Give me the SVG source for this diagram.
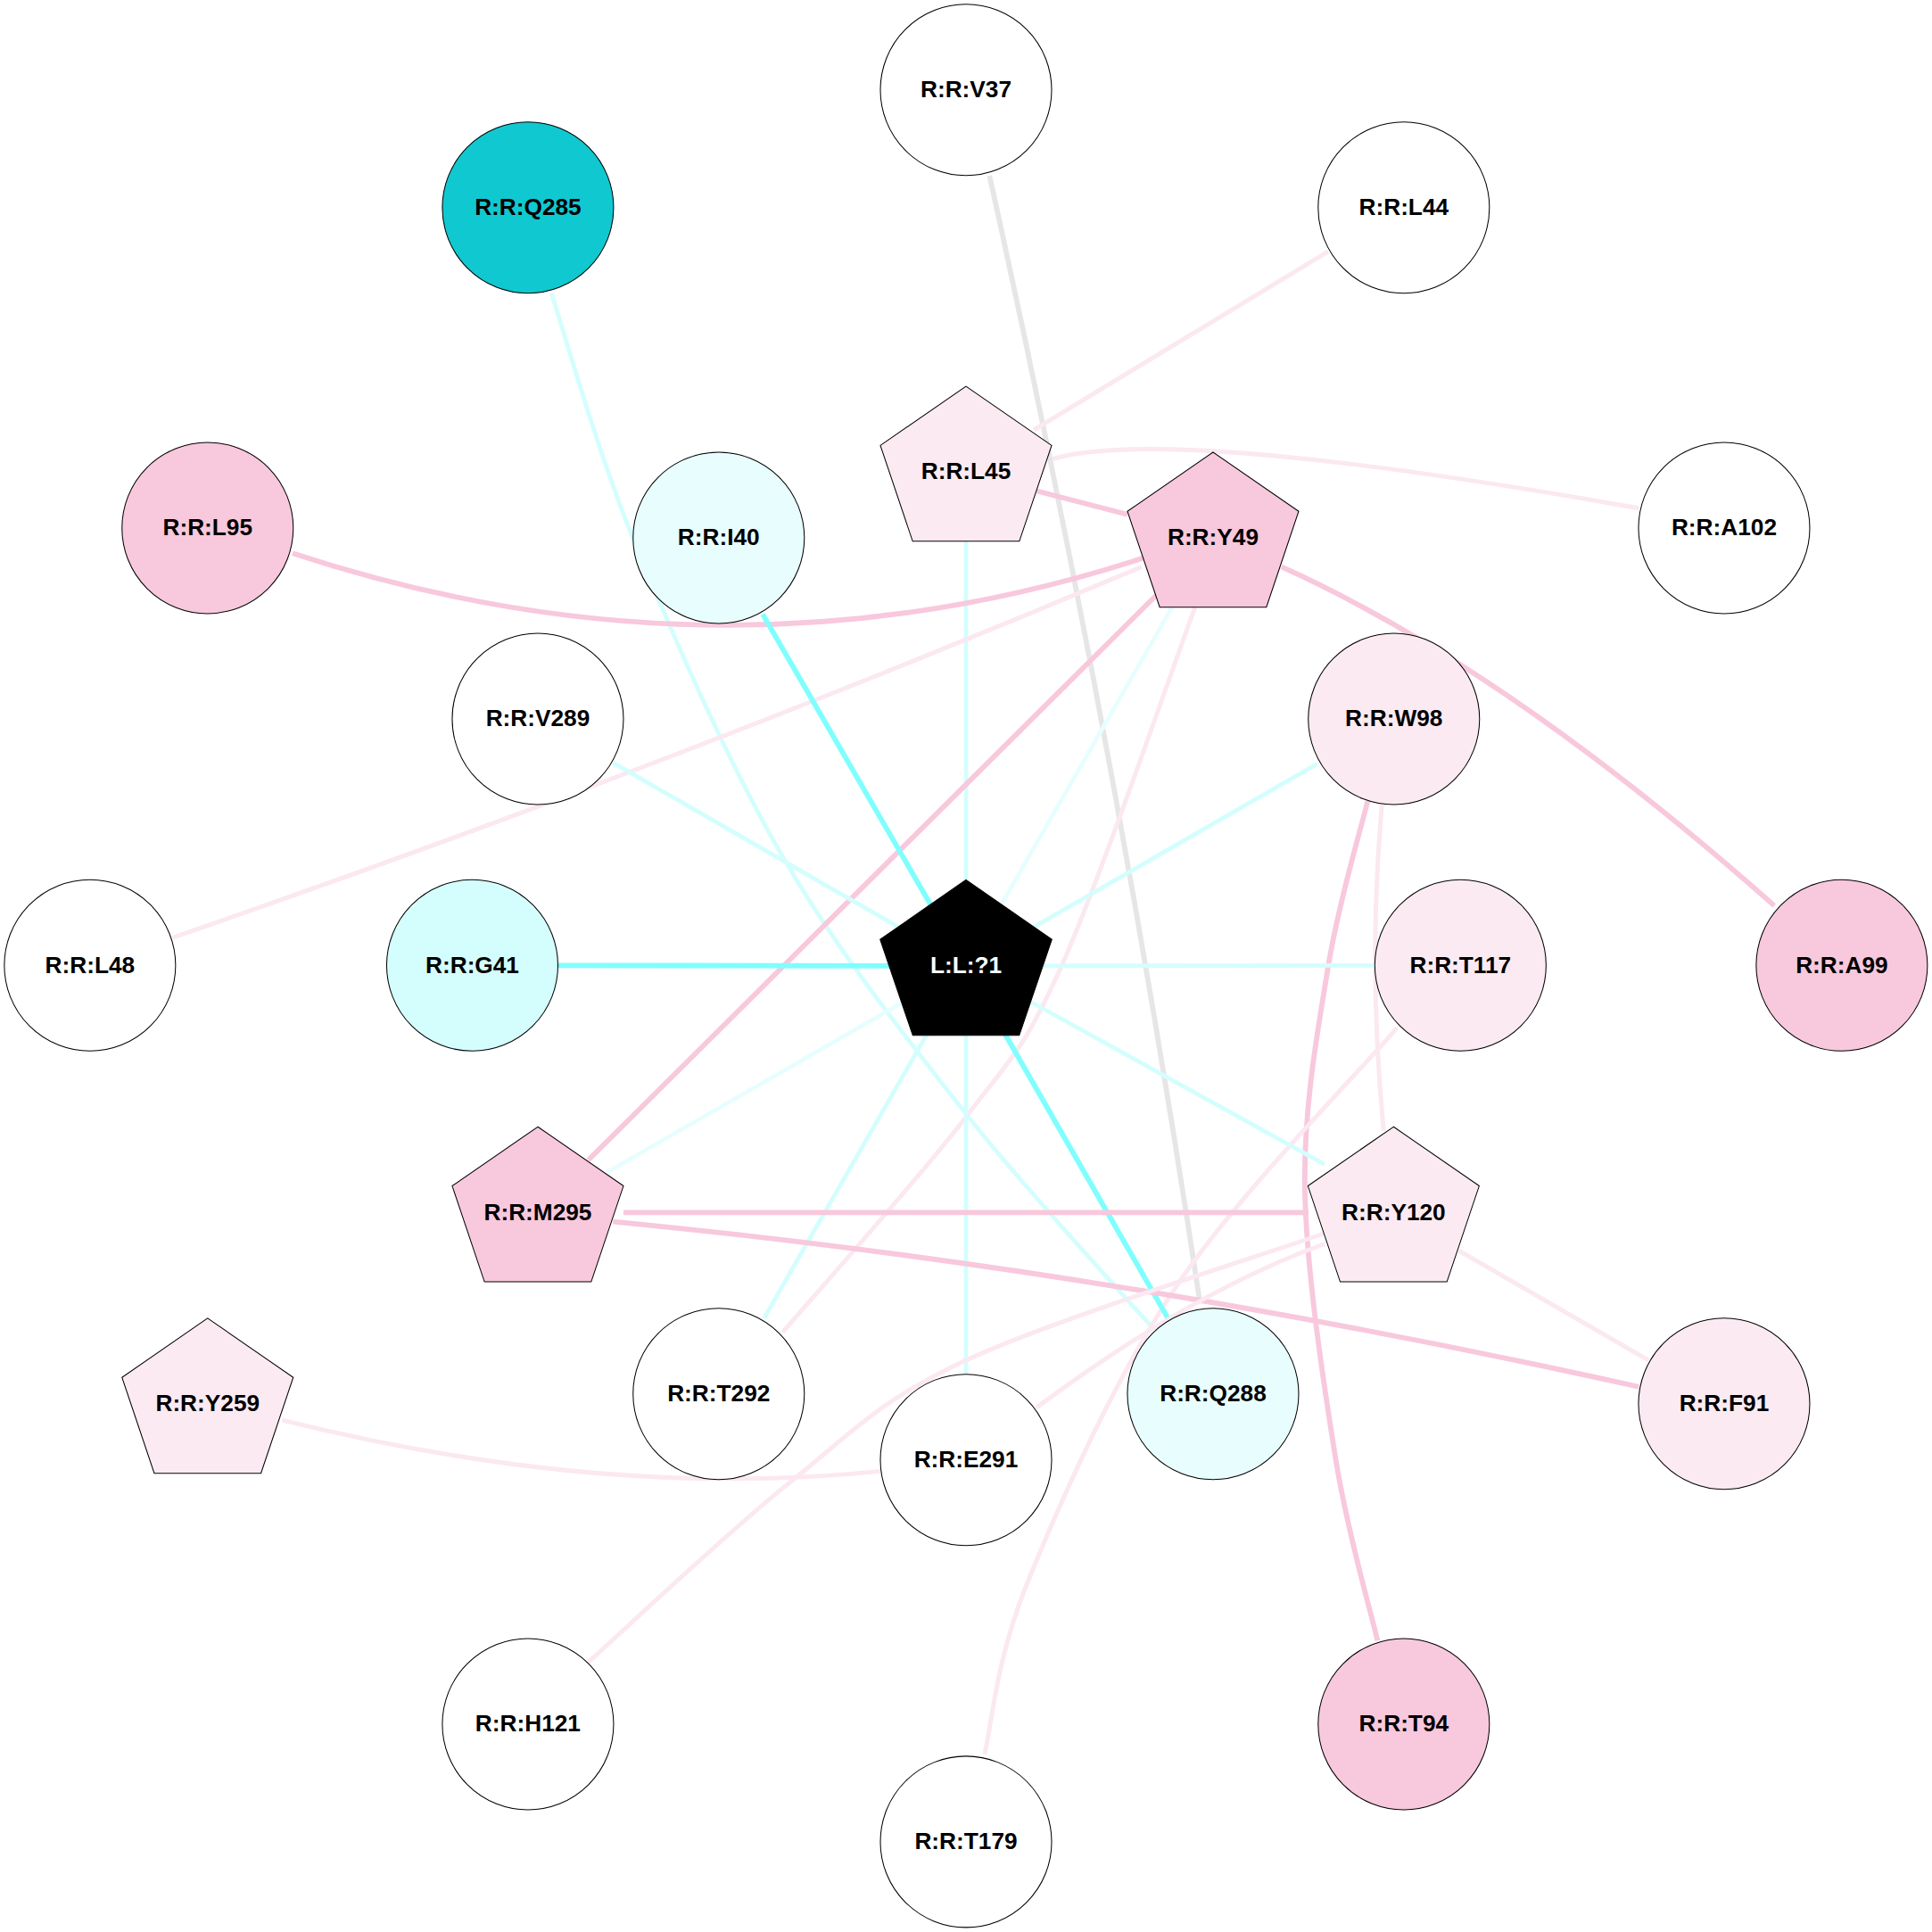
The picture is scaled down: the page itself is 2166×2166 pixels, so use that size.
<svg xmlns="http://www.w3.org/2000/svg" width="2166" height="2166" viewBox="0 0 2166 2166">
<style>
.e{fill:none;stroke-linecap:butt}
.pk{stroke:#f8c8dc;stroke-width:4.2}
.pp{stroke:#fbe8f0;stroke-width:3.6}
.cb{stroke:#80fefe;stroke-width:4.2}
.cp{stroke:#d4fefe;stroke-width:3.5}
.cv{stroke:#e8fefe;stroke-width:3.5}
.gr{stroke:#e6e6e6;stroke-width:4.2}
.n circle,.n polygon{stroke:#000;stroke-width:0.75}
.w{fill:#ffffff}
.pink{fill:#f8c8dc}
.ppink{fill:#fbeaf2}
.teal{fill:#10c8d0}
.cyan{fill:#d4fefe}
.vcyan{fill:#e8fefe}
.blk{fill:#000000}
text{font-family:"Liberation Sans",Arial,sans-serif;font-weight:bold;font-size:19px;text-anchor:middle;fill:#000}
.wt{fill:#ffffff}
</style>
<rect width="2166" height="2166" fill="#ffffff"/>
<g transform="scale(1.381378)">
<g id="edges">
<path class="e gr" d="M803,142.5 Q905,600 974,1058"/>
<path class="e cp" d="M447.5,238 C458.75,271.7 483.75,363.8 515,440 C546.25,516.2 590.2,617.7 635,695 C679.8,772.3 733.75,840 784,904 C834.25,968 911.1,1049.8 936.5,1079"/>
<path class="e pp" d="M1078,204 L839,349"/>
<path class="e pp" d="M854,372.5 Q950,345 1330,412.5"/>
<path class="e pk" d="M841.5,398.5 L915,417.5"/>
<path class="e cp" d="M784,439 L784,714"/>
<path class="e pk" d="M237.5,449 Q587,564 929,452.5"/>
<path class="e pk" d="M1040,460 Q1222,542 1440,735"/>
<path class="e pp" d="M926.5,460 Q538,624 140,761"/>
<path class="e pk" d="M939,482.5 L477.5,941.5"/>
<path class="e cv" d="M951.5,492.5 L784,784"/>
<path class="e pp" d="M970,492.5 C951.9,541.1 892.5,715 861.5,784 C830.5,853 821.75,856.9 784,906.5 C746.25,956.1 659.8,1052.3 635,1081.5"/>
<path class="e cb" d="M619,498.5 L784,784"/>
<path class="e cp" d="M497.5,619 L784,784"/>
<path class="e cb" d="M453,783.5 L784,784"/>
<path class="e cp" d="M1069,620 L784,784"/>
<path class="e pk" d="M1110,650 C1104.7,672.3 1086.5,731.7 1078,784 C1069.5,836.3 1058,897.3 1059,964 C1060,1030.7 1074.2,1122.75 1084,1184 C1093.8,1245.25 1112.3,1306.9 1118,1331.5"/>
<path class="e pp" d="M1121.5,652.5 Q1110,785 1123,918"/>
<path class="e cp" d="M1115.8,783.5 L784,784"/>
<path class="e pp" d="M1134,834 C1104,869.2 1004,970 954,1045 C904,1120 859.8,1220.8 834,1284 C808.2,1347.2 804.8,1400.7 799,1424"/>
<path class="e cp" d="M784,784 L1075,945"/>
<path class="e cv" d="M784,784 L492.5,951.5"/>
<path class="e cp" d="M784,784 L620,1070"/>
<path class="e cp" d="M784,784 L784,1115"/>
<path class="e cb" d="M784,784 L948,1070"/>
<path class="e pk" d="M506,984 L1062,984"/>
<path class="e pk" d="M497.5,991.5 Q900,1030 1330,1125.5"/>
<path class="e pp" d="M1184,1015 L1338,1104"/>
<path class="e pp" d="M1075,1001 C1026.5,1018.2 856.5,1070.2 784,1104 C711.5,1137.8 691.1,1163.2 640,1204 C588.9,1244.8 504.6,1324.8 477.5,1349"/>
<path class="e pp" d="M1075,1009.5 Q968,1048 841,1142.6"/>
<path class="e pp" d="M229,1152.5 C400,1195 560,1210 715,1194"/>
</g>
<g id="V37" class="n"><circle class="w" cx="784" cy="73" r="69.5"/><text x="784" y="79">R:R:V37</text></g>
<g id="Q285" class="n"><circle class="teal" cx="428.5" cy="168.5" r="69.5"/><text x="428.5" y="174.5">R:R:Q285</text></g>
<g id="L44" class="n"><circle class="w" cx="1139.3" cy="168.5" r="69.5"/><text x="1139.3" y="174.5">R:R:L44</text></g>
<g id="L45" class="n"><polygon class="ppink" transform="translate(784,383)" points="0,-69.5 69.5,-21.5 43.3,56.3 -43.3,56.3 -69.5,-21.5"/><text x="784" y="389">R:R:L45</text></g>
<g id="Y49" class="n"><polygon class="pink" transform="translate(984.5,436.5)" points="0,-69.5 69.5,-21.5 43.3,56.3 -43.3,56.3 -69.5,-21.5"/><text x="984.5" y="442.5">R:R:Y49</text></g>
<g id="L95" class="n"><circle class="pink" cx="168.5" cy="428.5" r="69.5"/><text x="168.5" y="434.5">R:R:L95</text></g>
<g id="I40" class="n"><circle class="vcyan" cx="583.3" cy="436.5" r="69.5"/><text x="583.3" y="442.5">R:R:I40</text></g>
<g id="A102" class="n"><circle class="w" cx="1399.3" cy="428.5" r="69.5"/><text x="1399.3" y="434.5">R:R:A102</text></g>
<g id="V289" class="n"><circle class="w" cx="436.5" cy="583.5" r="69.5"/><text x="436.5" y="589.5">R:R:V289</text></g>
<g id="W98" class="n"><circle class="ppink" cx="1131.3" cy="583.5" r="69.5"/><text x="1131.3" y="589.5">R:R:W98</text></g>
<g id="L48" class="n"><circle class="w" cx="73" cy="783.5" r="69.5"/><text x="73" y="789.5">R:R:L48</text></g>
<g id="G41" class="n"><circle class="cyan" cx="383.3" cy="783.5" r="69.5"/><text x="383.3" y="789.5">R:R:G41</text></g>
<g id="LIG" class="n"><polygon class="blk" transform="translate(784,784)" points="0,-70 69.7,-21.5 43.2,56.3 -43.2,56.3 -69.7,-21.5"/><text class="wt" x="784" y="790">L:L:?1</text></g>
<g id="T117" class="n"><circle class="ppink" cx="1185.3" cy="783.5" r="69.5"/><text x="1185.3" y="789.5">R:R:T117</text></g>
<g id="A99" class="n"><circle class="pink" cx="1494.8" cy="783.5" r="69.5"/><text x="1494.8" y="789.5">R:R:A99</text></g>
<g id="M295" class="n"><polygon class="pink" transform="translate(436.5,984)" points="0,-69.5 69.5,-21.5 43.3,56.3 -43.3,56.3 -69.5,-21.5"/><text x="436.5" y="990">R:R:M295</text></g>
<g id="Y120" class="n"><polygon class="ppink" transform="translate(1131,984)" points="0,-69.5 69.5,-21.5 43.3,56.3 -43.3,56.3 -69.5,-21.5"/><text x="1131" y="990">R:R:Y120</text></g>
<g id="Y259" class="n"><polygon class="ppink" transform="translate(168.5,1139.4)" points="0,-69.5 69.5,-21.5 43.3,56.3 -43.3,56.3 -69.5,-21.5"/><text x="168.5" y="1145.4">R:R:Y259</text></g>
<g id="T292" class="n"><circle class="w" cx="583.3" cy="1131.3" r="69.5"/><text x="583.3" y="1137.3">R:R:T292</text></g>
<g id="Q288" class="n"><circle class="vcyan" cx="984.5" cy="1131.3" r="69.5"/><text x="984.5" y="1137.3">R:R:Q288</text></g>
<g id="F91" class="n"><circle class="ppink" cx="1399.3" cy="1139.3" r="69.5"/><text x="1399.3" y="1145.3">R:R:F91</text></g>
<g id="E291" class="n"><circle class="w" cx="784" cy="1184.8" r="69.5"/><text x="784" y="1190.8">R:R:E291</text></g>
<g id="H121" class="n"><circle class="w" cx="428.5" cy="1399.3" r="69.5"/><text x="428.5" y="1405.3">R:R:H121</text></g>
<g id="T94" class="n"><circle class="pink" cx="1139.3" cy="1399.3" r="69.5"/><text x="1139.3" y="1405.3">R:R:T94</text></g>
<g id="T179" class="n"><circle class="w" cx="784" cy="1494.8" r="69.5"/><text x="784" y="1500.8">R:R:T179</text></g>
</g>
</svg>
